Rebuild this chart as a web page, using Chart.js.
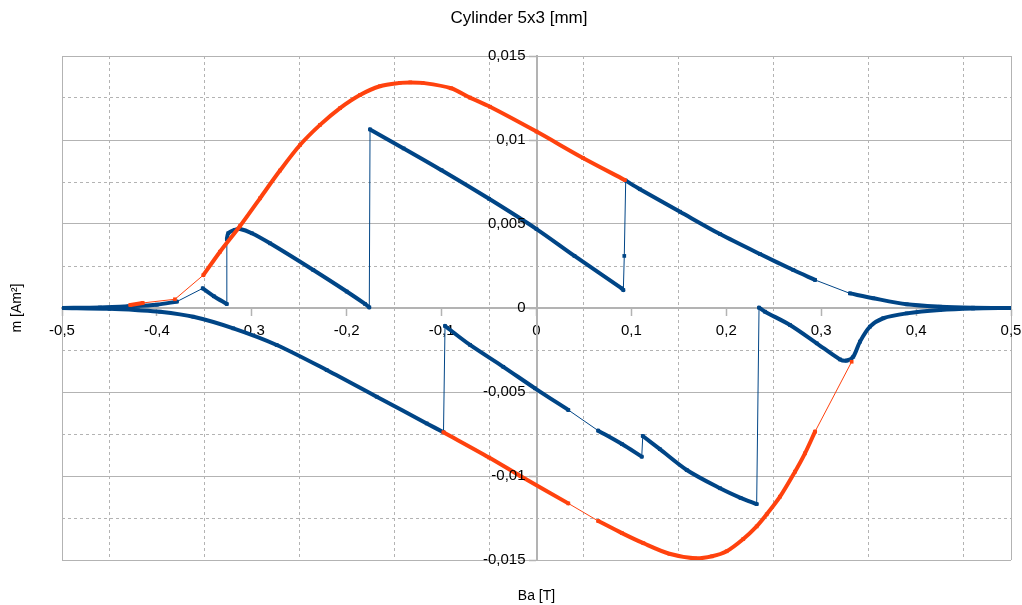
<!DOCTYPE html>
<html>
<head>
<meta charset="utf-8">
<title>Cylinder 5x3 [mm]</title>
<script src="https://cdn.jsdelivr.net/npm/chart.js@4.4.1/dist/chart.umd.min.js"></script>
<style>
  html, body { margin: 0; padding: 0; background: #ffffff; }
  #wrap { width: 1022px; height: 605px; }
</style>
</head>
<body>
<div id="wrap"><canvas id="chart" width="1022" height="605"></canvas></div>
<script>
// Labels
const chartTitle = 'Cylinder 5x3 [mm]';
const xTitle = 'Ba [T]';
const yTitle = 'm [Am²]';

// Axis ranges and tick steps
const xRange = [-0.5, 0.5];
const yRange = [-0.015, 0.015];
const xMajorStep = 0.1;
const xMinorStep = 0.05;
const yMajorStep = 0.005;
const yMinorStep = 0.0025;

// Reference loop (orange), field Ba [T] vs moment m [Am²].
// Each run is a densely sampled stretch; consecutive runs are joined by sparse samples.
const orangeUp1 = [[-0.428, 0.00018], [-0.415, 0.0003]];
const orangeUp2 = [[-0.381, 0.00052]];
const orangeUp3 = [
  [-0.351, 0.00196], [-0.3335, 0.00335], [-0.3124, 0.00488], [-0.2914, 0.00653],
  [-0.2703, 0.00818], [-0.2492, 0.0097], [-0.2281, 0.0109], [-0.207, 0.0119],
  [-0.186, 0.01268], [-0.165, 0.0132], [-0.144, 0.0134], [-0.133, 0.01343],
  [-0.12, 0.0134], [-0.09, 0.01308], [-0.07, 0.01252], [-0.049, 0.01198],
  [0, 0.0105], [0.049, 0.00893], [0.093, 0.00762]
];
const orangeLow1 = [[-0.098, -0.0074], [-0.05, -0.0089], [-0.017, -0.0100], [0.0335, -0.01163]];
const orangeLow2 = [
  [0.0651, -0.01268], [0.09, -0.0134], [0.1126, -0.0140], [0.14, -0.01463],
  [0.167, -0.0149], [0.185, -0.01478], [0.2004, -0.01448], [0.2179, -0.01375],
  [0.232, -0.0130], [0.2426, -0.01228], [0.2566, -0.01123], [0.2724, -0.00974],
  [0.2829, -0.00865], [0.2935, -0.00736]
];
const orangeLow3 = [[0.3321, -0.0032]];

// Measured sweep with flux jumps (blue): descending-field branch
const blueUp1 = [[-0.5, 0], [-0.46, 0.00003], [-0.43, 0.0001], [-0.4, 0.0002], [-0.379, 0.00038]];
const blueUp2 = [[-0.3517, 0.00117], [-0.34, 0.0007], [-0.3264, 0.00024]];
const blueUp3 = [
  [-0.3263, 0.00409], [-0.3248, 0.00445], [-0.318, 0.00465], [-0.3124, 0.0047],
  [-0.3, 0.00445], [-0.2808, 0.00385], [-0.2352, 0.00226], [-0.2, 0.00098],
  [-0.1807, 0.00024], [-0.1762, 0.00004]
];
const blueUp4 = [
  [-0.1754, 0.01063], [-0.14, 0.0095], [-0.1, 0.0082], [-0.05, 0.0065],
  [0, 0.0047], [0.04, 0.0031], [0.0898, 0.00117], [0.0915, 0.00107]
];
const blueUp5 = [[0.0925, 0.0031]];
const blueUp6 = [
  [0.094, 0.00758], [0.109, 0.00707], [0.1512, 0.00573], [0.1934, 0.0044],
  [0.2355, 0.00321], [0.2706, 0.00226], [0.2935, 0.00167]
];
const blueUp7 = [[0.3303, 0.00087], [0.3549, 0.00058], [0.3901, 0.00022], [0.4252, 0.00008], [0.46, 0.00002], [0.5, 0]];

// Measured sweep with flux jumps (blue): ascending-field branch
const blueLow1 = [
  [-0.5, 0], [-0.45, -0.00005], [-0.42, -0.00013], [-0.3967, -0.00022],
  [-0.3616, -0.00052], [-0.3195, -0.00121], [-0.2738, -0.0022], [-0.2211, -0.00369],
  [-0.1684, -0.00528], [-0.1157, -0.00687], [-0.098, -0.0074]
];
const blueLow2 = [[-0.0964, -0.00107], [-0.07, -0.0022], [-0.035, -0.0035], [-0.0016, -0.00478], [0.0335, -0.00607]];
const blueLow3 = [[0.065, -0.0073], [0.09, -0.0081], [0.1109, -0.00885]];
const blueLow4 = [[0.112, -0.00762], [0.13, -0.0084], [0.1583, -0.00964], [0.1934, -0.01073], [0.215, -0.0113], [0.232, -0.01167]];
const blueLow5 = [
  [0.2345, 0.00002], [0.2408, -0.00022], [0.2671, -0.00101], [0.2953, -0.0021],
  [0.3198, -0.00306], [0.3269, -0.00313], [0.3338, -0.0029], [0.3409, -0.002],
  [0.3514, -0.00111], [0.3654, -0.00061], [0.3901, -0.00032], [0.4252, -0.00012],
  [0.46, -0.00003], [0.5, 0]
];

const orangeBranches = [[orangeUp1, orangeUp2, orangeUp3], [orangeLow1, orangeLow2, orangeLow3]];
const blueBranches = [[blueUp1, blueUp2, blueUp3, blueUp4, blueUp5, blueUp6, blueUp7], [blueLow1, blueLow2, blueLow3, blueLow4, blueLow5]];

const ORANGE = '#ff420e';
const BLUE = '#004586';
const GRID = '#b3b3b3';
const FONT = '"Liberation Sans", Arial, sans-serif';

const toPoints = run => run.map(([x, y]) => ({ x, y }));

// Dense runs are drawn as thick curves; every branch also gets a thin polyline
// through all of its samples with small markers, which shows the sparse joins.
function seriesDatasets(branches, color, baseOrder) {
  const sets = [];
  branches.forEach(runs => {
    runs.filter(r => r.length > 1).forEach(run => {
      sets.push({
        data: toPoints(run), showLine: true, borderColor: color, borderWidth: 4,
        pointRadius: 0, tension: 0.3,
        borderCapStyle: 'round', borderJoinStyle: 'round', order: baseOrder
      });
    });
    sets.push({
      data: toPoints(runs.flat()), showLine: true, borderColor: color, borderWidth: 1,
      pointRadius: 2.6, pointStyle: 'rect', pointBackgroundColor: color,
      pointBorderWidth: 0, tension: 0, order: baseOrder + 1
    });
  });
  return sets;
}

const fmt = (v, digits) => {
  const r = Math.round(v * Math.pow(10, digits)) / Math.pow(10, digits);
  return (r === 0 ? 0 : r).toString().replace('.', ',');
};
const isMultiple = (v, step) => Math.abs(v / step - Math.round(v / step)) < 1e-6;

// Axes drawn through the plot keep the plot frame fixed by the layout padding
const noEdgePadding = scale => {
  scale.paddingLeft = 0; scale.paddingRight = 0;
  scale.paddingTop = 0; scale.paddingBottom = 0;
};

// Chart title, axis titles, and the m-axis tick labels set off to the left of the axis line
const annotations = {
  id: 'annotations',
  afterDraw(chart) {
    const { ctx, chartArea, scales } = chart;
    ctx.save();
    ctx.fillStyle = '#000';
    ctx.textBaseline = 'middle';

    ctx.font = '15px ' + FONT;
    ctx.textAlign = 'right';
    const axisX = scales.x.getPixelForValue(0);
    scales.y.ticks.forEach(t => {
      ctx.fillText(fmt(t.value, 4), axisX - 11, scales.y.getPixelForValue(t.value));
    });

    ctx.textAlign = 'center';
    ctx.font = '17px ' + FONT;
    ctx.fillText(chartTitle, 519, 18);
    ctx.font = '14px ' + FONT;
    ctx.fillText(xTitle, (chartArea.left + chartArea.right) / 2, 596);
    ctx.translate(17, (chartArea.top + chartArea.bottom) / 2);
    ctx.rotate(-Math.PI / 2);
    ctx.fillText(yTitle, 0, 0);
    ctx.restore();
  }
};

new Chart(document.getElementById('chart'), {
  type: 'scatter',
  data: {
    datasets: [
      ...seriesDatasets(orangeBranches, ORANGE, 0),
      ...seriesDatasets(blueBranches, BLUE, 2)
    ]
  },
  options: {
    responsive: false,
    animation: false,
    devicePixelRatio: 1,
    layout: { padding: { left: 62, right: 11, top: 56, bottom: 45 } },
    plugins: { legend: { display: false }, tooltip: { enabled: false } },
    scales: {
      x: {
        type: 'linear', min: xRange[0], max: xRange[1], position: { y: 0 },
        afterFit: noEdgePadding,
        ticks: {
          stepSize: xMajorStep, padding: 7, color: '#000',
          font: { family: FONT, size: 15 },
          callback: v => fmt(v, 1), maxRotation: 0, autoSkip: false
        },
        grid: {
          drawOnChartArea: true, drawTicks: true, tickLength: 7, tickColor: GRID, tickWidth: 1.5,
          color: c => (c.tick && (Math.abs(Math.abs(c.tick.value) - 0.5) < 1e-9)) ? GRID : 'rgba(0,0,0,0)',
          lineWidth: 1
        },
        border: { display: true, color: GRID, width: 2 }
      },
      xMinor: {
        axis: 'x', type: 'linear', min: xRange[0], max: xRange[1], position: { y: 0 },
        afterFit: noEdgePadding,
        ticks: { stepSize: xMinorStep, display: false, autoSkip: false },
        grid: {
          drawTicks: false, lineWidth: 1,
          color: c => (c.tick && !isMultiple(c.tick.value, xMajorStep)) ? GRID : 'rgba(0,0,0,0)'
        },
        border: { display: false, dash: [3, 3] }
      },
      y: {
        type: 'linear', min: yRange[0], max: yRange[1], position: { x: 0 },
        afterFit: noEdgePadding,
        ticks: { stepSize: yMajorStep, display: false, autoSkip: false },
        grid: {
          drawOnChartArea: true, drawTicks: true, tickLength: 7, tickColor: GRID, tickWidth: 1.5,
          color: GRID, lineWidth: 1
        },
        border: { display: true, color: GRID, width: 2 }
      },
      yMinor: {
        axis: 'y', type: 'linear', min: yRange[0], max: yRange[1], position: { x: 0 },
        afterFit: noEdgePadding,
        ticks: { stepSize: yMinorStep, display: false, autoSkip: false },
        grid: {
          drawTicks: false, lineWidth: 1,
          color: c => (c.tick && !isMultiple(c.tick.value, yMajorStep)) ? GRID : 'rgba(0,0,0,0)'
        },
        border: { display: false, dash: [3, 3] }
      }
    }
  },
  plugins: [annotations]
});
</script>
</body>
</html>
